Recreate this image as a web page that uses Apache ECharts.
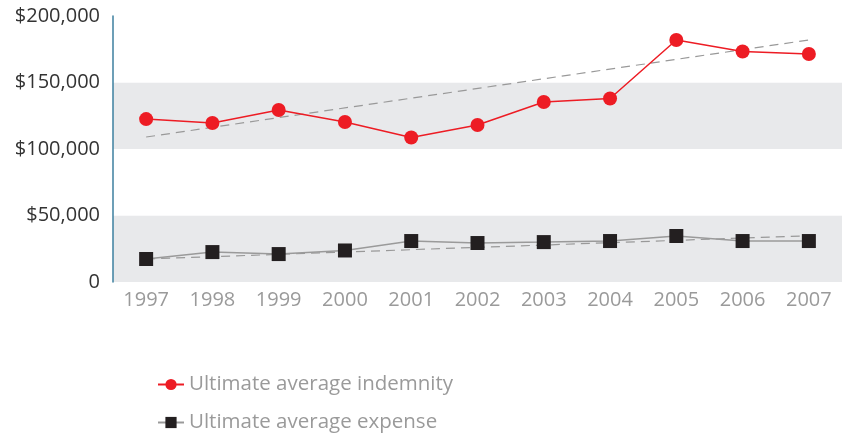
<!DOCTYPE html>
<html>
<head>
<meta charset="utf-8">
<script src="https://cdn.jsdelivr.net/npm/echarts@6/dist/echarts.min.js"></script>
<style>html,body{margin:0;padding:0;background:#fff}#c{width:842px;height:440px}</style>
</head>
<body>
<div id="c"></div>
<script>
const years = ['1997','1998','1999','2000','2001','2002','2003','2004','2005','2006','2007'];
const indemnity = [122500, 119500, 129300, 120300, 108600, 118000, 135300, 138000, 182000, 173300, 171400];
const expense = [17300, 22500, 21000, 23700, 30800, 29300, 30000, 30800, 34600, 30800, 30800];
const indemnityTrend = [['1997', 109000], ['2007', 182000]];
const expenseTrend = [['1997', 17300], ['2007', 34800]];
const yTicks = [0, 50000, 100000, 150000, 200000];

const chart = echarts.init(document.getElementById('c'));
const font = '"Open Sans", Lato, sans-serif';
chart.setOption({
  animation: false,
  textStyle: { fontFamily: font },
  grid: { left: 113, top: 16, width: 733, height: 266 },
  legend: {
    data: ['Ultimate average indemnity', 'Ultimate average expense'],
    orient: 'vertical',
    left: 152, top: 369,
    itemGap: 17, itemWidth: 26, itemHeight: 14,
    textStyle: { color: '#9a9a9a', fontSize: 20.5, fontFamily: font }
  },
  xAxis: {
    type: 'category', data: years, boundaryGap: true,
    axisLine: { show: false }, axisTick: { show: false },
    axisLabel: { color: '#9a9a9a', fontSize: 20, margin: 8, fontFamily: font }
  },
  yAxis: {
    type: 'value', min: yTicks[0], max: yTicks[yTicks.length - 1], interval: 50000,
    axisLine: { show: true, lineStyle: { color: '#3d7f9f', width: 1.5 } },
    axisTick: { show: false },
    splitLine: { show: false },
    splitArea: { show: true, areaStyle: { color: ['#E8E9EB', '#ffffff'] } },
    axisLabel: {
      color: '#333', fontSize: 20, margin: 13, fontFamily: font,
      formatter: v => v === 0 ? '0' : '$' + v.toLocaleString('en-US')
    }
  },
  series: [
    {
      name: 'Ultimate average indemnity', type: 'line', data: indemnity,
      symbol: 'circle', symbolSize: 14,
      itemStyle: { color: '#ED1C24' }, lineStyle: { color: '#ED1C24', width: 1.5 },
      z: 5
    },
    {
      name: 'Ultimate average expense', type: 'line', data: expense,
      symbol: 'rect', symbolSize: 14,
      itemStyle: { color: '#231F20' }, lineStyle: { color: '#9a9a9a', width: 1.5 },
      z: 5
    },
    {
      name: 'trend1', type: 'line', data: indemnityTrend, symbol: 'none',
      lineStyle: { color: '#999', width: 1.2, type: [9, 6] }, z: 3
    },
    {
      name: 'trend2', type: 'line', data: expenseTrend, symbol: 'none',
      lineStyle: { color: '#999', width: 1.2, type: [9, 6] }, z: 3
    }
  ]
});
</script>
</body>
</html>
